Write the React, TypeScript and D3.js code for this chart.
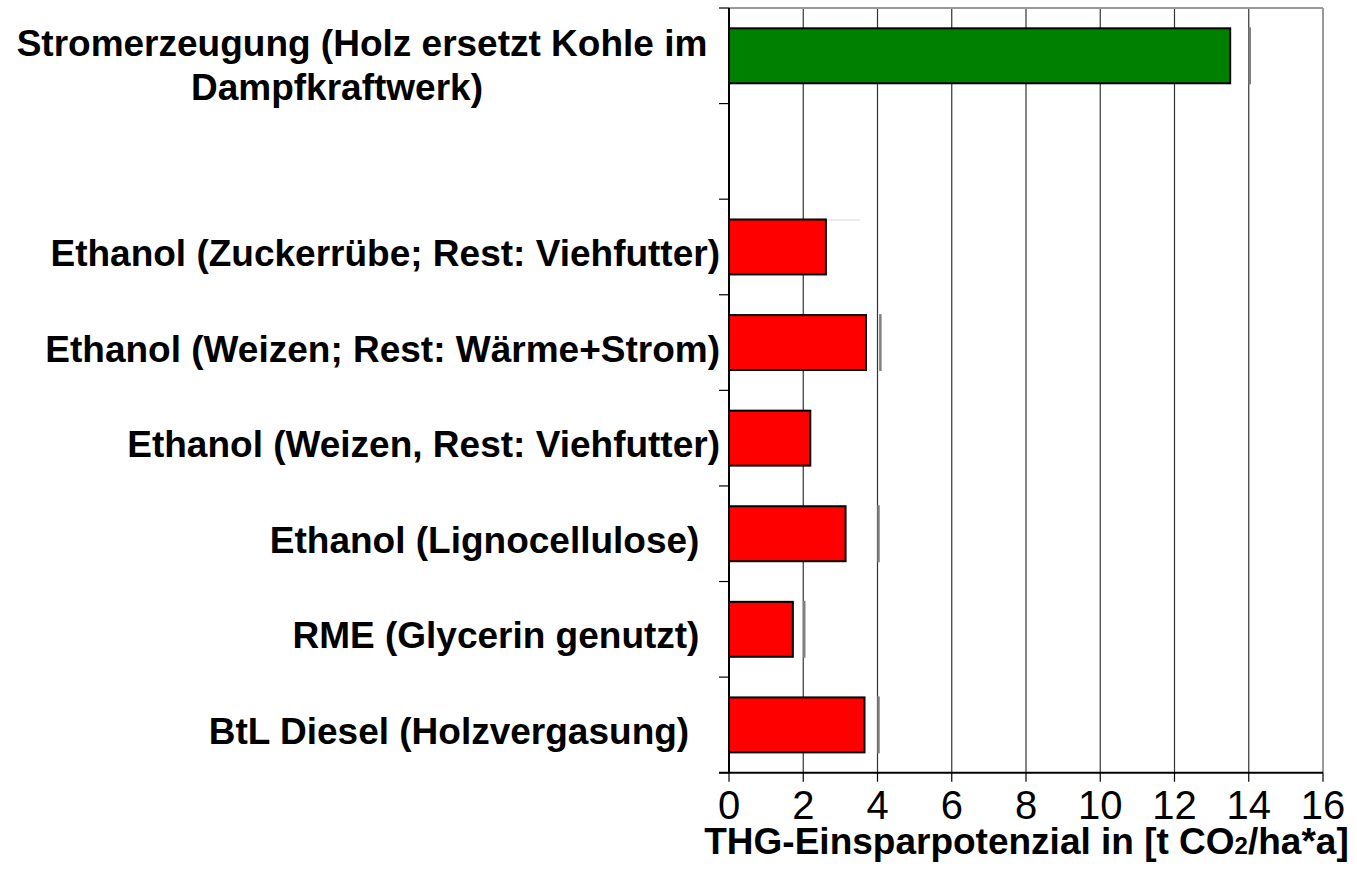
import React from "react";
import * as d3 from "d3";

// ---------- data ----------
const categories: string[][] = [
  ["Stromerzeugung (Holz ersetzt Kohle im", "Dampfkraftwerk)"],
  [],
  ["Ethanol (Zuckerrübe; Rest: Viehfutter)"],
  ["Ethanol (Weizen; Rest: Wärme+Strom)"],
  ["Ethanol (Weizen, Rest: Viehfutter)"],
  ["Ethanol (Lignocellulose)  "],
  ["RME (Glycerin genutzt)  "],
  ["BtL Diesel (Holzvergasung)   "],
];
const values: (number | null)[] = [13.5, null, 2.61, 3.69, 2.19, 3.14, 1.72, 3.65];
const upperValues: (number | null)[] = [14.0, null, 3.53, 4.05, null, 4.0, 2.0, 4.0];
const upperVisible: boolean[] = [true, false, false, true, false, true, true, true];
const barColors: string[] = ["#008000", "", "#ff0000", "#ff0000", "#ff0000", "#ff0000", "#ff0000", "#ff0000"];
const xTicks: number[] = [0, 2, 4, 6, 8, 10, 12, 14, 16];
const xTitleMain = "THG-Einsparpotenzial in [t CO";
const xTitleSub = "2";
const xTitleEnd = "/ha*a]";

// ---------- layout ----------
const W = 1357;
const H = 874;
const left = 729;
const right = 1323;
const top = 8;
const bottom = 772.7;
const FONT = "'Liberation Sans', Arial, Helvetica, sans-serif";

export default function App() {
  const x = d3.scaleLinear().domain([0, 16]).range([left, right]);
  const y = d3
    .scaleBand<number>()
    .domain(categories.map((_, i) => i))
    .range([top, bottom])
    .paddingInner(0.425)
    .paddingOuter(0.2125);
  const step = y.step();
  const bw = y.bandwidth();
  const boundaries = d3.range(categories.length + 1).map((i) => top + i * step);

  return (
    <svg
      width={W}
      height={H}
      style={{ position: "absolute", left: 0, top: 0, background: "#fff" }}
      fontFamily={FONT}
    >
      <rect x={0} y={0} width={W} height={H} fill="#fff" />
      {/* gridlines */}
      {xTicks
        .filter((t) => t > 0 && t < 16)
        .map((t) => (
          <line key={t} x1={x(t)} x2={x(t)} y1={top} y2={bottom} stroke="#333" strokeWidth={1.2} />
        ))}
      {/* plot border top/right */}
      <line x1={left} x2={right} y1={top} y2={top} stroke="#999" strokeWidth={2} />
      <line x1={right} x2={right} y1={top} y2={bottom} stroke="#999" strokeWidth={2} />

      {/* faint top lines for upper ranges */}
      {values.map((v, i) =>
        v != null && upperValues[i] != null && !upperVisible[i] ? (
          <line
            key={"f" + i}
            x1={x(v)}
            x2={x(upperValues[i] as number)}
            y1={(y(i) as number) + 0.5}
            y2={(y(i) as number) + 0.5}
            stroke="#d8d8d8"
            strokeWidth={1}
          />
        ) : null
      )}

      {/* upper range marks */}
      {upperValues.map((u, i) =>
        u != null && upperVisible[i] ? (
          <line
            key={"u" + i}
            x1={x(u) + 1}
            x2={x(u) + 1}
            y1={(y(i) as number) - 1}
            y2={(y(i) as number) + bw + 1}
            stroke="#808080"
            strokeWidth={2.5}
          />
        ) : null
      )}

      {/* bars */}
      {values.map((v, i) =>
        v != null ? (
          <rect
            key={"b" + i}
            x={x(0)}
            y={y(i)}
            width={x(v) - x(0)}
            height={bw}
            fill={barColors[i]}
            stroke="#000"
            strokeWidth={2}
          />
        ) : null
      )}

      {/* y axis */}
      <line x1={left} x2={left} y1={top} y2={bottom} stroke="#000" strokeWidth={2} />
      {boundaries.map((b, i) => (
        <line key={"yt" + i} x1={left - 10} x2={left} y1={b} y2={b} stroke="#000" strokeWidth={1.2} />
      ))}
      {/* x axis */}
      <line x1={left - 10} x2={right} y1={bottom} y2={bottom} stroke="#000" strokeWidth={2} />
      {xTicks.map((t) => (
        <line key={"xt" + t} x1={x(t)} x2={x(t)} y1={bottom} y2={bottom + 9} stroke="#000" strokeWidth={1.2} />
      ))}
      {xTicks.map((t) => (
        <text key={"xl" + t} x={x(t)} y={819} fontSize={40} textAnchor="middle" fill="#000">
          {t}
        </text>
      ))}
      <text x={1026.5} y={854} fontSize={37} fontWeight="bold" textAnchor="middle" fill="#000">
        {xTitleMain}
        <tspan fontSize={24}>{xTitleSub}</tspan>
        {xTitleEnd}
      </text>

      {/* category labels */}
      {categories.map((lines, i) => {
        const cy = (y(i) as number) + bw / 2;
        if (lines.length === 1) {
          return (
            <text
              key={"c" + i}
              x={720}
              y={cy + 19}
              fontSize={37}
              fontWeight="bold"
              textAnchor="end"
              fill="#000"
              style={{ whiteSpace: "pre" }}
            >
              {lines[0]}
            </text>
          );
        }
        if (lines.length === 2) {
          return (
            <g key={"c" + i}>
              <text x={362} y={cy} fontSize={37} fontWeight="bold" textAnchor="middle" fill="#000">
                {lines[0]}
              </text>
              <text x={337} y={cy + 44} fontSize={37} fontWeight="bold" textAnchor="middle" fill="#000">
                {lines[1]}
              </text>
            </g>
          );
        }
        return null;
      })}
    </svg>
  );
}
